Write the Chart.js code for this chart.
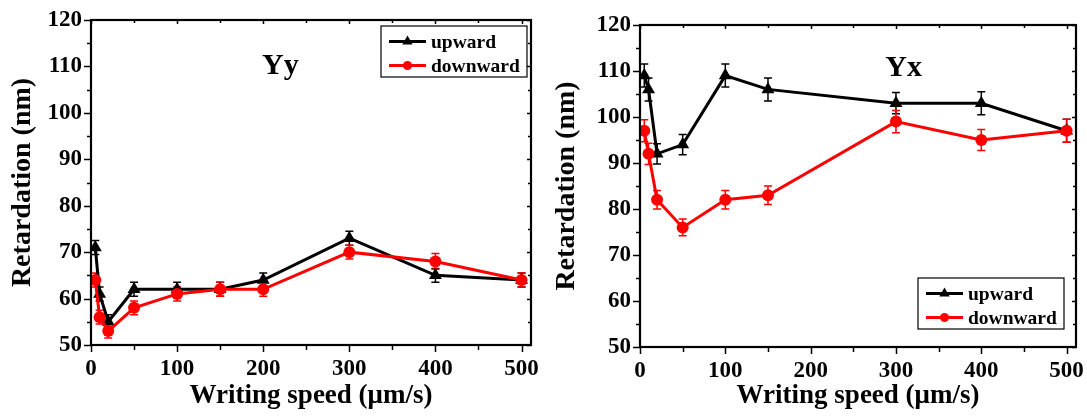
<!DOCTYPE html>
<html lang="en">
<head>
    <meta charset="UTF-8">
    <title>Retardation vs writing speed</title>
    <script src="https://cdn.jsdelivr.net/npm/chart.js"></script>
    <style>
        body { margin: 0; background: #fff; }
        .wrap { display: flex; width: 1087px; height: 416px; }
    </style>
</head>
<body>
<div class="wrap">
    <canvas id="chartYy" width="540" height="416"></canvas>
    <canvas id="chartYx" width="547" height="416"></canvas>
</div>
<script>
    // Yy panel
    const speedsYy = [5, 10, 20, 50, 100, 150, 200, 300, 400, 500];
    const upwardYy = [71, 61, 55, 62, 62, 62, 64, 73, 65, 64];
    const upwardYyErr = [1.5, 1.5, 1.5, 1.5, 1.5, 1.5, 1.5, 1.5, 1.5, 1.5];
    const downwardYy = [64, 56, 53, 58, 61, 62, 62, 70, 68, 64];
    const downwardYyErr = [1.5, 1.5, 1.5, 1.5, 1.5, 1.5, 1.5, 1.5, 1.7, 1.5];

    // Yx panel
    const speedsYx = [5, 10, 20, 50, 100, 150, 300, 400, 500];
    const upwardYx = [109, 106, 92, 94, 109, 106, 103, 103, 97];
    const upwardYxErr = [2.5, 2.5, 2.2, 2.2, 2.5, 2.5, 2.3, 2.5, 2.5];
    const downwardYx = [97, 92, 82, 76, 82, 83, 99, 95, 97];
    const downwardYxErr = [2.4, 2.3, 2, 1.8, 2, 2, 2.4, 2.3, 2.5];

    const seriesNames = ['upward', 'downward'];
    const xMajorTicks = [0, 100, 200, 300, 400, 500];
    const xMinorTicks = [50, 150, 250, 350, 450];
    const yMajorTicks = [50, 60, 70, 80, 90, 100, 110, 120];
    const yMinorTicks = [55, 65, 75, 85, 95, 105, 115];

    const serif = 'Liberation Serif, Times New Roman, serif';

    const toPoints = (xs, ys) => xs.map((x, i) => ({x: x, y: ys[i]}));

    // box, tick marks on all four sides
    const framePlugin = {
        id: 'frame',
        afterDatasetsDraw(chart) {
            const {ctx, chartArea: a, scales: {x, y}} = chart;
            ctx.save();
            ctx.strokeStyle = '#000';
            ctx.lineWidth = 1.5;
            ctx.beginPath();
            const xt = (list, out, inn) => list.forEach(v => {
                const px = Math.round(x.getPixelForValue(v)) + 0.5;
                ctx.moveTo(px, a.bottom); ctx.lineTo(px, a.bottom + out);
                ctx.moveTo(px, a.top); ctx.lineTo(px, a.top + inn);
            });
            const yt = (list, out, inn) => list.forEach(v => {
                const py = Math.round(y.getPixelForValue(v)) + 0.5;
                ctx.moveTo(a.left, py); ctx.lineTo(a.left - out, py);
                ctx.moveTo(a.right, py); ctx.lineTo(a.right - inn, py);
            });
            xt(xMajorTicks, 7, 4);
            xt(xMinorTicks, 5, 3);
            yt(yMajorTicks, 7, 4);
            yt(yMinorTicks, 4, 3);
            ctx.stroke();
            ctx.lineWidth = 2.2;
            ctx.strokeRect(a.left, a.top, a.right - a.left, a.bottom - a.top);
            ctx.restore();
        }
    };

    const errorBarPlugin = {
        id: 'errorBars',
        beforeDatasetsDraw(chart) {
            const {ctx, scales: {x, y}} = chart;
            ctx.save();
            chart.data.datasets.forEach(ds => {
                ctx.strokeStyle = ds.borderColor;
                ctx.lineWidth = 1.5;
                ds.data.forEach((p, i) => {
                    const px = x.getPixelForValue(p.x);
                    const top = y.getPixelForValue(p.y + ds.errors[i]);
                    const bot = y.getPixelForValue(p.y - ds.errors[i]);
                    ctx.beginPath();
                    ctx.moveTo(px, top); ctx.lineTo(px, bot);
                    ctx.moveTo(px - 4, top); ctx.lineTo(px + 4, top);
                    ctx.moveTo(px - 4, bot); ctx.lineTo(px + 4, bot);
                    ctx.stroke();
                });
            });
            ctx.restore();
        }
    };

    // panel label and boxed legend inside the plot
    const panelPlugin = {
        id: 'panel',
        afterDraw(chart, args, opts) {
            const {ctx, chartArea: a, scales: {x, y}} = chart;
            ctx.save();
            ctx.fillStyle = '#000';
            ctx.font = 'bold 30px ' + serif;
            ctx.textAlign = 'center';
            ctx.textBaseline = 'middle';
            ctx.fillText(opts.label, x.getPixelForValue(opts.labelAt[0]), y.getPixelForValue(opts.labelAt[1]));

            const w = 146, h = 51;
            const left = a.right - opts.inset[0] - w;
            const top = opts.corner === 'top' ? a.top + opts.inset[1] : a.bottom - opts.inset[1] - h;
            ctx.lineWidth = 1.2;
            ctx.strokeStyle = '#000';
            ctx.strokeRect(left, top, w, h);
            ctx.font = 'bold 19.5px ' + serif;
            ctx.textAlign = 'left';
            chart.data.datasets.forEach((ds, i) => {
                const ry = top + 15.5 + i * 24;
                ctx.strokeStyle = ds.borderColor;
                ctx.fillStyle = ds.borderColor;
                ctx.lineWidth = 3;
                ctx.beginPath();
                ctx.moveTo(left + 8, ry); ctx.lineTo(left + 45, ry);
                ctx.stroke();
                Chart.helpers.drawPoint(ctx, {pointStyle: ds.pointStyle, radius: ds.pointStyle === 'triangle' ? 6 : 4.5, borderWidth: 0}, left + 26.5, ry);
                ctx.fillStyle = '#000';
                ctx.fillText(ds.label, left + 50, ry + 1);
            });
            ctx.restore();
        }
    };

    function makeChart(id, speeds, up, upErr, down, downErr, frame, panel) {
        const ctx = document.getElementById(id).getContext('2d');
        return new Chart(ctx, {
            type: 'line',
            data: {
                datasets: [{
                    label: seriesNames[0],
                    data: toPoints(speeds, up),
                    errors: upErr,
                    borderColor: '#000',
                    backgroundColor: '#000',
                    borderWidth: 3,
                    pointStyle: 'triangle',
                    pointRadius: 7.5,
                    pointBorderWidth: 0,
                    tension: 0,
                    order: 2
                }, {
                    label: seriesNames[1],
                    data: toPoints(speeds, down),
                    errors: downErr,
                    borderColor: '#ff0000',
                    backgroundColor: '#ff0000',
                    borderWidth: 3,
                    pointStyle: 'circle',
                    pointRadius: 6,
                    pointBorderWidth: 0,
                    tension: 0,
                    order: 1
                }]
            },
            options: {
                responsive: false,
                animation: false,
                layout: {autoPadding: false, padding: {top: frame.top, right: frame.right, left: 0, bottom: 0}},
                plugins: {
                    legend: {display: false},
                    tooltip: {enabled: false},
                    panel: panel
                },
                scales: {
                    x: {
                        type: 'linear',
                        min: 0,
                        max: 511,
                        grid: {display: false, drawTicks: false},
                        border: {display: false},
                        ticks: {
                            stepSize: 100,
                            includeBounds: false,
                            padding: 10,
                            color: '#000',
                            font: {family: serif, size: 23, weight: 'bold'}
                        },
                        title: {
                            display: true,
                            text: 'Writing speed (\u03bcm/s)',
                            color: '#000',
                            padding: {top: 0, bottom: 4},
                            font: {family: serif, size: 27, weight: 'bold'}
                        },
                        afterFit: s => {
                            s.height = frame.xHeight;
                            s.paddingLeft = 0;
                            s.paddingRight = 0;
                        }
                    },
                    y: {
                        min: 50,
                        max: 120,
                        grid: {display: false, drawTicks: false},
                        border: {display: false},
                        ticks: {
                            stepSize: 10,
                            padding: 9,
                            color: '#000',
                            font: {family: serif, size: 23, weight: 'bold'}
                        },
                        title: {
                            display: true,
                            text: 'Retardation (nm)',
                            color: '#000',
                            padding: {top: frame.yTitlePad, bottom: 0},
                            font: {family: serif, size: 28, weight: 'bold'}
                        },
                        afterFit: s => {
                            s.width = frame.yWidth;
                            s.paddingTop = 0;
                            s.paddingBottom = 0;
                        }
                    }
                }
            },
            plugins: [errorBarPlugin, framePlugin, panelPlugin]
        });
    }

    makeChart('chartYy', speedsYy, upwardYy, upwardYyErr, downwardYy, downwardYyErr,
        {top: 20, right: 9, xHeight: 71, yWidth: 91, yTitlePad: 6},
        {label: 'Yy', labelAt: [220, 110], corner: 'top', inset: [4, 6]});

    makeChart('chartYx', speedsYx, upwardYx, upwardYxErr, downwardYx, downwardYxErr,
        {top: 25, right: 11, xHeight: 69, yWidth: 100, yTitlePad: 10},
        {label: 'Yx', labelAt: [309, 110.6], corner: 'bottom', inset: [12, 18]});
</script>
</body>
</html>
